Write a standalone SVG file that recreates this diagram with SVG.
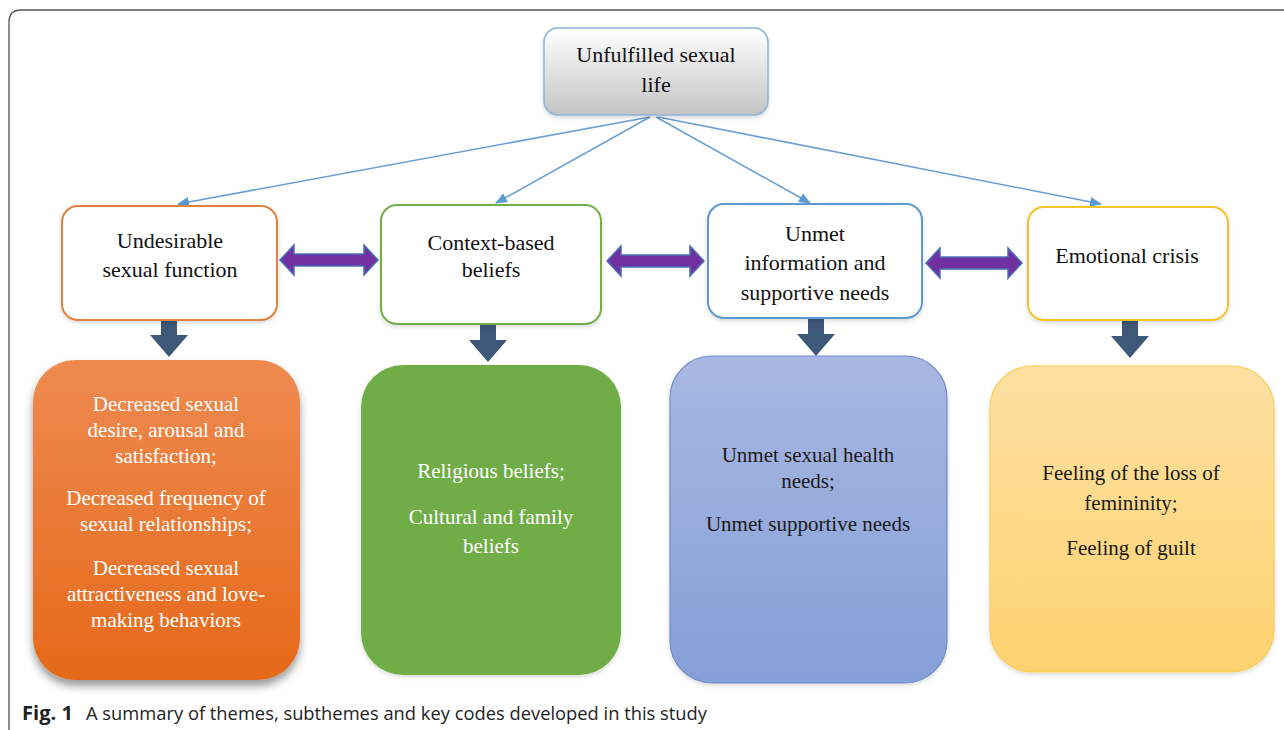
<svg xmlns="http://www.w3.org/2000/svg" width="1284" height="730" viewBox="0 0 1284 730">
<style>
.serif{font-family:"Liberation Serif","Times New Roman",serif;text-anchor:middle}
.n2{font-size:22px;fill:#111}
.b{font-size:21px}
.w{fill:#ffffff}
.d{fill:#1a1a1a}
.conn{stroke:#6a9fd4;stroke-width:1.6;fill:none}
.dbl{fill:#7030a0;stroke:#4a6fb5;stroke-width:1.5}
.down{fill:#3d5878}
.cap{font-family:"Open Sans","Noto Sans","Liberation Sans",sans-serif;font-size:19px;fill:#222}
</style>
<defs>
<linearGradient id="gTop" x1="0" y1="0" x2="0" y2="1"><stop offset="0" stop-color="#ffffff"/><stop offset="1" stop-color="#c4c4c4"/></linearGradient>
<linearGradient id="gOr" x1="0" y1="0" x2="0" y2="1"><stop offset="0" stop-color="#ef8a50"/><stop offset="1" stop-color="#e5691a"/></linearGradient>
<linearGradient id="gBl" x1="0" y1="0" x2="0" y2="1"><stop offset="0" stop-color="#a9b8e2"/><stop offset="1" stop-color="#869fd8"/></linearGradient>
<linearGradient id="gYe" x1="0" y1="0" x2="0" y2="1"><stop offset="0" stop-color="#fde1a2"/><stop offset="1" stop-color="#fdd16f"/></linearGradient>
<filter id="sh" x="-20%" y="-20%" width="140%" height="140%"><feDropShadow dx="0" dy="6" stdDeviation="4" flood-color="#000" flood-opacity="0.4"/></filter>
<filter id="sh2" x="-20%" y="-20%" width="140%" height="140%"><feDropShadow dx="0" dy="2" stdDeviation="2" flood-color="#000" flood-opacity="0.15"/></filter>
<marker id="ah" markerWidth="12" markerHeight="10" refX="11" refY="5" orient="auto" markerUnits="userSpaceOnUse"><path d="M0,0 L12,5 L0,10 Z" fill="#5b9bd5"/></marker>
</defs>

<path d="M9,732 L9,22 Q9,10 21,10 L1290,10" fill="none" stroke="#555" stroke-width="1.3"/>

<g id="connectors">
<line class="conn" x1="650" y1="117" x2="178" y2="204" marker-end="url(#ah)"/>
<line class="conn" x1="650" y1="117" x2="496" y2="203" marker-end="url(#ah)"/>
<line class="conn" x1="656" y1="117" x2="810" y2="203" marker-end="url(#ah)"/>
<line class="conn" x1="658" y1="117" x2="1101" y2="204" marker-end="url(#ah)"/>
<path class="dbl" d="M280,260 L294,245 L294,254 L364,254 L364,245 L378,260 L364,275 L364,266 L294,266 L294,275 Z"/>
<path class="dbl" d="M607,261 L621,246 L621,255 L690,255 L690,246 L704,261 L690,276 L690,267 L621,267 L621,276 Z"/>
<path class="dbl" d="M926,263 L940,248 L940,257 L1008,257 L1008,248 L1022,263 L1008,278 L1008,269 L940,269 L940,278 Z"/>
<path class="down" d="M161,320 L177,320 L177,335 L188,335 L169,357 L150,335 L161,335 Z"/>
<path class="down" d="M480,325 L496,325 L496,340 L507,340 L488,362 L469,340 L480,340 Z"/>
<path class="down" d="M808,319 L824,319 L824,334 L835,334 L816,356 L797,334 L808,334 Z"/>
<path class="down" d="M1122,321 L1138,321 L1138,336 L1149,336 L1130,358 L1111,336 L1122,336 Z"/>
</g>

<g id="root">
<rect x="544" y="28" width="224" height="87" rx="14" fill="url(#gTop)" stroke="#8fb4d8" stroke-width="1.5" filter="url(#sh2)"/>
<text class="serif n2" x="656" y="62">Unfulfilled sexual</text>
<text class="serif n2" x="656" y="92">life</text>
</g>

<g id="theme1">
<rect x="62" y="206" width="215" height="114" rx="16" fill="#fff" stroke="#e0823e" stroke-width="2" filter="url(#sh2)"/>
<text class="serif n2" x="170" y="248">Undesirable</text>
<text class="serif n2" x="170" y="277">sexual function</text>
</g>
<g id="theme2">
<rect x="381" y="205" width="220" height="119" rx="16" fill="#fff" stroke="#74ad4a" stroke-width="2" filter="url(#sh2)"/>
<text class="serif n2" x="491" y="250">Context-based</text>
<text class="serif n2" x="491" y="277">beliefs</text>
</g>
<g id="theme3">
<rect x="708" y="204" width="214" height="114" rx="16" fill="#fff" stroke="#5f98cf" stroke-width="2" filter="url(#sh2)"/>
<text class="serif n2" x="815" y="241">Unmet</text>
<text class="serif n2" x="815" y="270">information and</text>
<text class="serif n2" x="815" y="300">supportive needs</text>
</g>
<g id="theme4">
<rect x="1028" y="207" width="200" height="113" rx="16" fill="#fff" stroke="#f2c42a" stroke-width="2" filter="url(#sh2)"/>
<text class="serif n2" x="1127" y="263">Emotional crisis</text>
</g>

<g id="sub1">
<rect x="33" y="360" width="267" height="320" rx="42" fill="url(#gOr)" filter="url(#sh)"/>
<text class="serif b w" x="166" y="411">Decreased sexual</text>
<text class="serif b w" x="166" y="437">desire, arousal and</text>
<text class="serif b w" x="166" y="463">satisfaction;</text>
<text class="serif b w" x="166" y="505">Decreased frequency of</text>
<text class="serif b w" x="166" y="531">sexual relationships;</text>
<text class="serif b w" x="166" y="575">Decreased sexual</text>
<text class="serif b w" x="166" y="601">attractiveness and love-</text>
<text class="serif b w" x="166" y="627">making behaviors</text>
</g>
<g id="sub2">
<rect x="361" y="365" width="260" height="310" rx="42" fill="#70ad47" filter="url(#sh2)"/>
<text class="serif b w" x="491" y="478">Religious beliefs;</text>
<text class="serif b w" x="491" y="524">Cultural and family</text>
<text class="serif b w" x="491" y="553">beliefs</text>
</g>
<g id="sub3">
<rect x="670" y="356" width="277" height="327" rx="42" fill="url(#gBl)" stroke="#6f8cc8" stroke-width="1.2" filter="url(#sh2)"/>
<text class="serif b d" x="808" y="462">Unmet sexual health</text>
<text class="serif b d" x="808" y="488">needs;</text>
<text class="serif b d" x="808" y="531">Unmet supportive needs</text>
</g>
<g id="sub4">
<rect x="990" y="366" width="284" height="306" rx="42" fill="url(#gYe)" stroke="#f7cf55" stroke-width="1.2" filter="url(#sh2)"/>
<text class="serif b d" x="1131" y="480">Feeling of the loss of</text>
<text class="serif b d" x="1131" y="510">femininity;</text>
<text class="serif b d" x="1131" y="555">Feeling of guilt</text>
</g>

<g id="caption">
<text class="cap" x="22" y="720" font-weight="bold" textLength="51" lengthAdjust="spacingAndGlyphs">Fig. 1</text>
<text class="cap" x="86" y="720" textLength="621" lengthAdjust="spacingAndGlyphs">A summary of themes, subthemes and key codes developed in this study</text>
</g>
</svg>
